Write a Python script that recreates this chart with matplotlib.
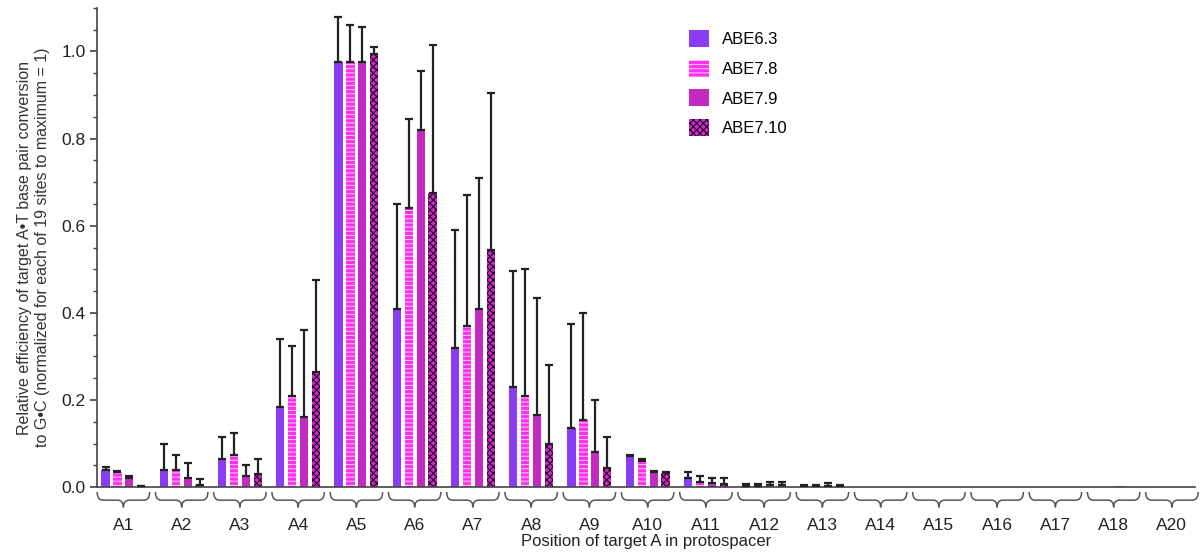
import numpy as np
import matplotlib
matplotlib.use('Agg')
import matplotlib.pyplot as plt
from matplotlib.path import Path
from matplotlib.patches import PathPatch
import matplotlib.transforms as mtransforms

plt.rcParams['font.family'] = ['Liberation Sans', 'DejaVu Sans']
plt.rcParams['hatch.linewidth'] = 0.7

positions = ['A1', 'A2', 'A3', 'A4', 'A5', 'A6', 'A7', 'A8', 'A9', 'A10',
             'A11', 'A12', 'A13', 'A14', 'A15', 'A16', 'A17', 'A18', 'A20']
editors = ['ABE6.3', 'ABE7.8', 'ABE7.9', 'ABE7.10']

# mean values per editor
abe63 = [0.040, 0.040, 0.065, 0.185, 0.975, 0.410, 0.320, 0.230, 0.135, 0.072,
         0.022, 0.003, 0.002, 0.0005, 0.0003, 0.0005, 0.0003, 0.0005, 0.0003]
abe78 = [0.035, 0.040, 0.075, 0.210, 0.975, 0.640, 0.370, 0.210, 0.155, 0.060,
         0.013, 0.003, 0.002, 0.0005, 0.0003, 0.0003, 0.0003, 0.0003, 0.0003]
abe79 = [0.020, 0.020, 0.025, 0.160, 0.975, 0.820, 0.410, 0.165, 0.080, 0.035,
         0.009, 0.005, 0.003, 0.0003, 0.0003, 0.0003, 0.0003, 0.002, 0.0003]
abe710 = [0.002, 0.005, 0.030, 0.265, 0.995, 0.675, 0.545, 0.100, 0.045, 0.033,
          0.008, 0.005, 0.002, 0.0003, 0.0003, 0.0003, 0.0003, 0.0003, 0.0003]

# upper error (standard deviation)
err63 = [0.007, 0.060, 0.050, 0.155, 0.105, 0.240, 0.270, 0.265, 0.240, 0.001,
         0.013, 0.005, 0.002, 0, 0, 0, 0, 0, 0]
err78 = [0.002, 0.035, 0.050, 0.115, 0.085, 0.205, 0.300, 0.290, 0.245, 0.004,
         0.012, 0.005, 0.002, 0, 0, 0, 0, 0, 0]
err79 = [0.005, 0.035, 0.025, 0.200, 0.080, 0.135, 0.300, 0.270, 0.120, 0.002,
         0.011, 0.008, 0.007, 0, 0, 0, 0, 0, 0]
err710 = [0.001, 0.013, 0.035, 0.210, 0.015, 0.340, 0.360, 0.180, 0.070, 0.002,
          0.014, 0.007, 0.002, 0, 0, 0, 0, 0, 0]

means = [abe63, abe78, abe79, abe710]
errs = [err63, err78, err79, err710]
colors = ['#8a3cf2', '#ff30f0', '#c22ac2', '#d424cf']
hatches = [None, '----', None, 'xxxxx']
hatch_colors = ['#8a3cf2', '#ffd0fb', '#c22ac2', 'black']

fig = plt.figure(figsize=(12, 5.6), dpi=100)
ax = fig.add_axes([0.081, 0.130, 0.915, 0.856])

x = np.arange(len(positions))
step = 0.205
width = 0.14
for i in range(4):
    xs = x + (i - 1.5) * step
    m = np.array(means[i])
    e = np.array(errs[i])
    ax.bar(xs, m, width, color=colors[i], hatch=hatches[i],
           edgecolor=hatch_colors[i], linewidth=0, label=editors[i], zorder=2)
    has = e > 0
    ax.errorbar(xs[has], m[has], yerr=[np.zeros(has.sum()), e[has]], fmt='none',
                ecolor='#222222', elinewidth=1.6, capsize=3, capthick=1.6, zorder=3)

# curly braces under each group
trans = mtransforms.blended_transform_factory(ax.transData, ax.transAxes)
top, mid, tip = -0.010, -0.027, -0.042
half, d = 0.45, 0.1
for c in x:
    l, r = c - half, c + half
    verts = [(l, top), (l, mid), (l + d, mid), (c - d, mid), (c, mid), (c, tip),
             (c, tip), (c, mid), (c + d, mid), (r - d, mid), (r, mid), (r, top)]
    codes = [Path.MOVETO, Path.CURVE3, Path.CURVE3, Path.LINETO, Path.CURVE3, Path.CURVE3,
             Path.MOVETO, Path.CURVE3, Path.CURVE3, Path.LINETO, Path.CURVE3, Path.CURVE3]
    ax.add_patch(PathPatch(Path(verts, codes), transform=trans, fill=False,
                           edgecolor='#555555', linewidth=1.1, clip_on=False))

ax.set_xlim(-0.45, 18.4)
ax.set_ylim(0, 1.1)
ax.set_xticks(x)
ax.set_xticklabels(positions, fontsize=12.5, color='#222222')
ax.tick_params(axis='x', length=0, pad=22)
ax.set_yticks(np.arange(0, 1.01, 0.2))
ax.set_yticks(np.arange(0, 1.101, 0.05), minor=True)
ax.set_yticklabels(['0.0', '0.2', '0.4', '0.6', '0.8', '1.0'], fontsize=12.5, color='#222222')
ax.tick_params(axis='y', which='major', length=5, width=1.2, color='#444444')
ax.tick_params(axis='y', which='minor', length=3, width=1.0, color='#444444')

for s in ['top', 'right']:
    ax.spines[s].set_visible(False)
for s in ['left', 'bottom']:
    ax.spines[s].set_color('#444444')
    ax.spines[s].set_linewidth(1.2)

ax.set_xlabel('Position of target A in protospacer', fontsize=12, labelpad=1, color='#222222')
ax.set_ylabel('Relative efficiency of target A\u2022T base pair conversion\n'
              'to G\u2022C (normalized for each of 19 sites to maximum = 1)',
              fontsize=11.5, labelpad=8, linespacing=1.25, color='#333333')

leg = ax.legend(loc='upper left', bbox_to_anchor=(0.525, 0.985), frameon=False,
                fontsize=12, handlelength=1.2, handleheight=1.2, labelspacing=0.75,
                handletextpad=0.8)

fig.savefig('out.png', dpi=100)
